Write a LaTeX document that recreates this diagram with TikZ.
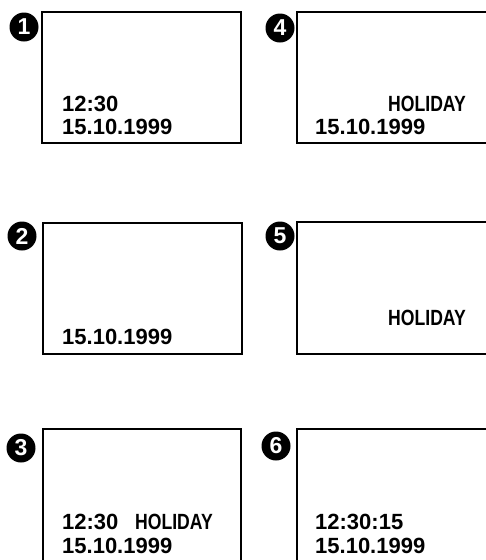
\documentclass[tikz,border=0pt]{standalone}
\usepackage{fontspec}
\setmainfont{Liberation Sans}
\newfontfamily\narrowfont[FakeStretch=0.8]{Liberation Sans}
\begin{document}
\begin{tikzpicture}[x=1pt,y=-1pt,
  screen/.style={draw=black, line width=2.5pt, anchor=north west, inner sep=0pt, outer sep=0pt},
  num/.style={circle, fill=black, text=white, minimum size=29pt, inner sep=0pt,
    font=\bfseries\fontsize{23}{23}\selectfont},
  txt/.style={anchor=base west, inner sep=0pt, font=\bfseries\fontsize{22}{22}\selectfont},
  hol/.style={anchor=base west, inner sep=0pt, font=\narrowfont\bfseries\fontsize{22}{22}\selectfont}]
\useasboundingbox (0,0) rectangle (486,560);
\clip (0,0) rectangle (486,560);
% screens
\node[screen, minimum width=199pt, minimum height=131pt] (s1) at (42,12) {};
\node[screen, minimum width=199pt, minimum height=131pt] (s2) at (43,223) {};
\node[screen, minimum width=198pt, minimum height=140pt] (s3) at (43,429) {};
\node[screen, minimum width=230pt, minimum height=131pt] (s4) at (297,12) {};
\node[screen, minimum width=230pt, minimum height=132pt] (s5) at (297,222) {};
\node[screen, minimum width=230pt, minimum height=140pt] (s6) at (297,429) {};
% numbers
\node[num] (n1) at (24,27) {1};
\node[num] (n2) at (22,236) {2};
\node[num] (n3) at (21,448) {3};
\node[num] (n4) at (280,28) {4};
\node[num] (n5) at (280,236) {5};
\node[num] (n6) at (276,446) {6};
% texts
\node[txt] (t1a) at (62,111) {12:30};
\node[txt] (t1b) at (62,134) {15.10.1999};
\node[txt] (t2b) at (62,344.5) {15.10.1999};
\node[txt] (t3a) at (62,529.5) {12:30};
\node[hol] (t3h) at (135,529.5) {HOLIDAY};
\node[txt] (t3b) at (62,553.5) {15.10.1999};
\node[hol] (t4h) at (388,111) {HOLIDAY};
\node[txt] (t4b) at (315,134) {15.10.1999};
\node[hol] (t5h) at (388,325.5) {HOLIDAY};
\node[txt] (t6a) at (315,529.5) {12:30:15};
\node[txt] (t6b) at (315,553.5) {15.10.1999};
\end{tikzpicture}
\end{document}
